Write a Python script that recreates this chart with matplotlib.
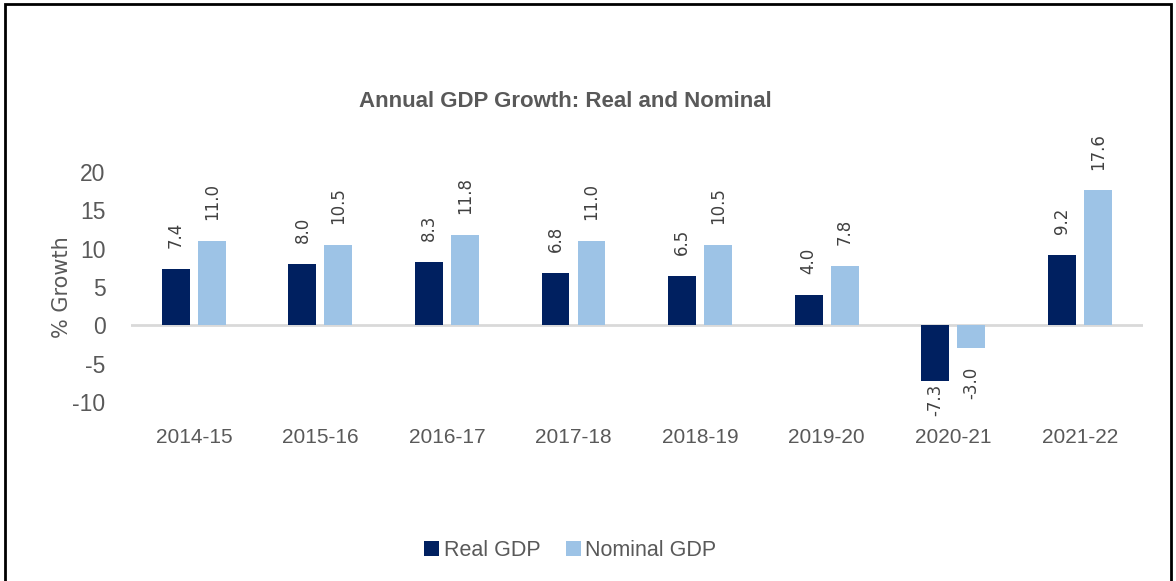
import matplotlib.pyplot as plt
import matplotlib.patches as mpatches
import numpy as np

# Données
years = ["2014-15", "2015-16", "2016-17", "2017-18", "2018-19", "2019-20", "2020-21", "2021-22"]
real_gdp = [7.4, 8.0, 8.3, 6.8, 6.5, 4.0, -7.3, 9.2]
nominal_gdp = [11.0, 10.5, 11.8, 11.0, 10.5, 7.8, -3.0, 17.6]

plt.rcParams["axes.unicode_minus"] = False
narrow = ["Liberation Sans", "DejaVu Sans"]
real_color = "#002060"
nom_color = "#9DC3E6"
grey = "#595959"

fig = plt.figure(figsize=(11.76, 5.81), dpi=100)
ax = fig.add_axes([0.111, 0.308, 0.861, 0.396])

x = np.arange(len(years))
w = 0.22
off = 0.142
b1 = ax.bar(x - off, real_gdp, w, color=real_color, label="Real GDP")
b2 = ax.bar(x + off, nominal_gdp, w, color=nom_color, label="Nominal GDP")

# Étiquettes de valeur (verticales), gardées au-dessus des libellés d'années
floor = -7.6
for bars, vals in [(b1, real_gdp), (b2, nominal_gdp)]:
    for bar, v in zip(bars, vals):
        xc = bar.get_x() + bar.get_width() / 2
        if v >= 0:
            ax.annotate(f"{v:.1f}", (xc, v), xytext=(0, 15), textcoords="offset points",
                        rotation=90, ha="center", va="bottom", fontsize=12, color="#404040")
        else:
            ytxt = max(v - 2.4, floor)
            ax.text(xc, ytxt, f"{v:.1f}", rotation=90, ha="center", va="top",
                    fontsize=12, color="#404040")

ax.set_xlim(-0.5, len(years) - 0.5)
ax.set_ylim(-10, 20)
ax.set_yticks([-10, -5, 0, 5, 10, 15, 20])
ax.axhline(0, color="#D9D9D9", lw=2, zorder=0)
for s in ax.spines.values():
    s.set_visible(False)
ax.tick_params(length=0)
ax.set_xticks(x)
ax.set_xticklabels(years, fontsize=15, color=grey, family=narrow)
for lab in ax.get_yticklabels():
    lab.set_fontsize(16.5)
    lab.set_color(grey)
    lab.set_family(narrow)
ax.tick_params(axis="x", pad=19)
ax.tick_params(axis="y", pad=18)
ax.set_ylabel("% Growth", fontsize=15, color=grey, labelpad=0)

fig.text(0.481, 0.825, "Annual GDP Growth: Real and Nominal", ha="center", va="center",
         fontsize=16, fontweight="bold", color=grey, family=narrow)

fig.legend(handles=[b1, b2], loc="center", bbox_to_anchor=(0.485, 0.053), ncol=2,
           frameon=False, handlelength=0.7, handleheight=0.7, handletextpad=0.2,
           columnspacing=1.2, prop={"family": narrow, "size": 15.5}, labelcolor=grey)

# Cadre noir autour de la figure
fig.patches.append(mpatches.Rectangle((0.004, -0.01), 0.992, 1.003, transform=fig.transFigure,
                                      fill=False, edgecolor="black", lw=2))

fig.savefig("out.png", dpi=100)
